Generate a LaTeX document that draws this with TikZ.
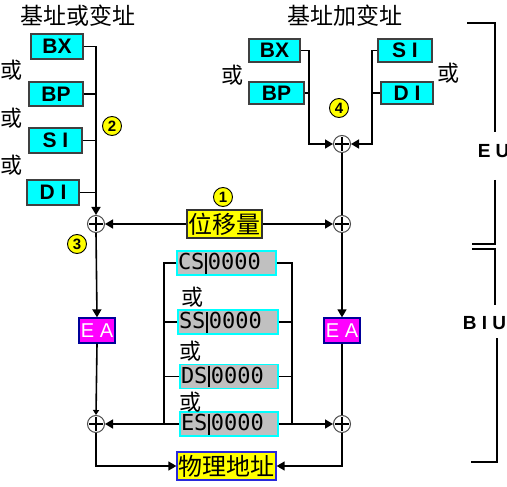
\documentclass[tikz,border=0pt]{standalone}
\usepackage{fontspec}
\setmainfont{Liberation Sans}
\newfontfamily\cjk{Noto Sans CJK SC}
\newfontfamily\segmono{DejaVu Sans Mono}
\usetikzlibrary{arrows.meta}
\definecolor{regcyan}{RGB}{0,255,255}
\definecolor{seggray}{RGB}{192,192,192}
\definecolor{eamag}{RGB}{255,0,255}
\definecolor{ylwc}{RGB}{255,255,0}
\definecolor{physblue}{RGB}{40,40,220}
\newcommand\segbar{\hspace{1pt}\rule[-4pt]{1.3pt}{21pt}\hspace{1pt}}
\begin{document}
\begin{tikzpicture}[x=1pt,y=-1pt,line width=1.6pt,>={Triangle[length=8pt,width=9pt]},
 reg/.style={draw=black!75,fill=regcyan,line width=1.3pt,inner sep=0pt,font=\bfseries\fontsize{21}{21}\selectfont},
 seg/.style={draw=regcyan,fill=seggray,line width=1.3pt,inner xsep=1pt,inner ysep=0pt,minimum height=24pt,align=left,font=\segmono\fontsize{22}{22}\selectfont},
 ylw/.style={fill=ylwc,inner sep=0pt,font=\cjk\fontsize{24}{24}\selectfont,line width=1.3pt},
 ea/.style={draw=blue!60!black,fill=eamag,text=white,inner sep=0pt,minimum width=36pt,minimum height=25pt,line width=1.3pt,font=\fontsize{20}{20}\selectfont},
 oplus/.style={circle,draw=black!70,line width=1pt,fill=white,minimum size=17pt,inner sep=0pt,
   path picture={\draw[black,line width=1.2pt] (path picture bounding box.center) ++(-7,0) -- ++(14,0)
     (path picture bounding box.center) ++(0,-7) -- ++(0,14);}},
 num/.style={circle,draw=black,fill=ylwc,line width=0.9pt,inner sep=0pt,minimum size=19pt,font=\bfseries\fontsize{15}{15}\selectfont},
 huo/.style={font=\cjk\fontsize{22}{22}\selectfont,inner sep=0pt},
 ttl/.style={font=\cjk\fontsize{23}{23}\selectfont,inner sep=0pt},
 lbl/.style={font=\bfseries\fontsize{19}{19}\selectfont,inner sep=0pt,anchor=west},
 smallarrow/.style={-{Triangle[length=5pt,width=6pt]}}]
\useasboundingbox (0,0) rectangle (507,487);
\clip (0,0) rectangle (507,487);
\fill[white] (0,0) rectangle (507,487);

% titles
\node[ttl] (tL) at (78,16) {基址或变址};
\node[ttl] (tR) at (345,16) {基址加变址};

% left registers
\node[reg,minimum width=52pt,minimum height=25pt] (BXL) at (57,46.5) {BX};
\node[reg,minimum width=54pt,minimum height=24pt] (BPL) at (56,94) {BP};
\node[reg,minimum width=53pt,minimum height=25pt] (SIL) at (55.5,140.5) {S I};
\node[reg,minimum width=52pt,minimum height=25pt] (DIL) at (53,192.5) {D I};
\node[huo] (h1) at (11,70) {或};
\node[huo] (h2) at (11,118) {或};
\node[huo] (h3) at (11,165) {或};

% right registers
\node[reg,minimum width=51pt,minimum height=23pt] (BXR) at (274.5,50.5) {BX};
\node[reg,minimum width=55pt,minimum height=22pt] (BPR) at (276.5,93) {BP};
\node[reg,minimum width=54pt,minimum height=23pt] (SIR) at (405,50.5) {S I};
\node[reg,minimum width=52pt,minimum height=22pt] (DIR) at (407,93) {D I};
\node[huo] (h4) at (232,75) {或};
\node[huo] (h5) at (448,73) {或};

% adders
\node[oplus] (cL1) at (96,224) {};
\node[oplus] (cR1) at (342,144) {};
\node[oplus] (cR2) at (342,224) {};
\node[oplus] (cL3) at (96,424) {};
\node[oplus] (cR3) at (342,424) {};

% displacement
\node[ylw,draw=black!80,minimum width=75pt,minimum height=28pt] (DISP) at (224.5,224) {位移量};

% EA
\node[ea] (EAL) at (97,330.5) {E A};
\node[ea] (EAR) at (342,330.5) {E A};

% segment registers
\node[seg,text width=97pt] (CS) at (226.5,263) {CS\segbar 0000};
\node[seg,text width=98pt] (SS) at (228,322) {SS\segbar 0000};
\node[seg,text width=96pt] (DS) at (229,376.5) {DS\segbar 0000};
\node[seg,text width=96pt] (ES) at (229,424) {ES\segbar 0000};
\node[huo] (h6) at (192,297) {或};
\node[huo] (h7) at (190,351) {或};
\node[huo] (h8) at (190,402) {或};

% physical address
\node[ylw,draw=physblue,minimum width=99pt,minimum height=28pt] (PHY) at (226.5,466) {物理地址};

% number badges
\node[num] (n1) at (223,197) {1};
\node[num] (n2) at (112,126) {2};
\node[num] (n3) at (77,244) {3};
\node[num] (n4) at (339,108) {4};

% coordinates
\coordinate (jL) at (96,46.5);
\coordinate (jR1) at (309,144);
\coordinate (jR2) at (372,144);
\coordinate (bL) at (164,424);
\coordinate (bR) at (292,424);

% left column connections
\draw[->] (BXL.east) -| (cL1.north);
\draw (BPL.east) -- (BPL.east -| jL);
\draw (SIL.east) -- (SIL.east -| jL);
\draw (DIL.east) -- (DIL.east -| jL);

% right top connections
\draw[->] (BXR.east) -| (jR1) -- (cR1.west);
\draw (BPR.east) -- (BPR.east -| jR1);
\draw[->] (SIR.west) -| (jR2) -- (cR1.east);
\draw (DIR.west) -- (DIR.west -| jR2);
\draw (cR1.south) -- (cR2.north);

% displacement
\draw[->] (DISP.west) -- (cL1.east);
\draw[->] (DISP.east) -- (cR2.west);

% EA
\draw[->] (cL1.south) -- (EAL.north);
\draw[->] (cR2.south) -- (EAR.north);
\draw[smallarrow] (EAL.south) -- (cL3.north);
\draw (EAR.south) -- (cR3.north);

% segment buses
\draw (CS.west) -| (bL);
\draw (SS.west) -- (SS.west -| bL);
\draw (DS.west) -- (DS.west -| bL);
\draw[->] (ES.west) -- (cL3.east);
\draw (CS.east) -| (bR);
\draw (SS.east) -- (SS.east -| bR);
\draw (DS.east) -- (DS.east -| bR);
\draw[->] (ES.east) -- (cR3.west);

% physical address
\draw[->] (cL3.south) |- (PHY.west);
\draw[->] (cR3.south) |- (PHY.east);

% brackets
\draw (467,23) -- (495,23) -- (495,132);
\draw (495,180) -- (495,244) -- (472,244);
\node[lbl] (EU) at (477,151) {E U};
\draw (472,249) -- (495,249) -- (495,305);
\draw (497,338) -- (497,462) -- (471,462);
\node[lbl] (BIU) at (462,323) {B I U};
\end{tikzpicture}
\end{document}
